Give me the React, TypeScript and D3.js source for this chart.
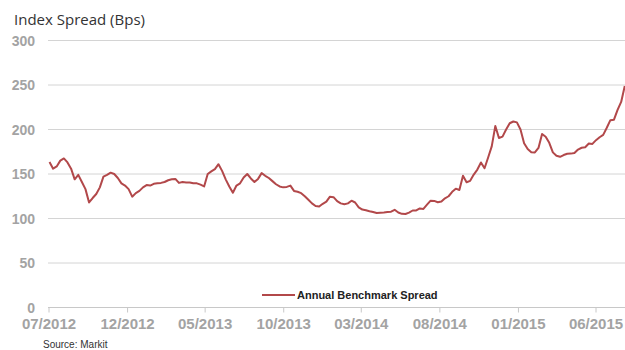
import React from "react";
import * as d3 from "d3";

const title = "Index Spread (Bps)";
const seriesName = "Annual Benchmark Spread";
const sourceText = "Source: Markit";
const yTicks = [0, 50, 100, 150, 200, 250, 300];
const xTickDates = ["2012-07-01", "2012-12-01", "2013-05-01", "2013-10-01", "2014-03-01", "2014-08-01", "2015-01-01", "2015-06-01"];
const startWeek = "2012-07-02";
// weekly index spread values (bps)
const spreadValues = [
  163.5, 156, 158.5, 165, 167.5, 163, 156, 144, 149, 141,
  133, 118, 123, 127.5, 135, 147, 149, 151.5, 150, 145.5,
  139.5, 137, 133, 124.5, 128.5, 131, 135, 137.6, 137, 139,
  139.5, 140, 141, 143, 144, 144.5, 140, 141, 140.5, 140.5,
  139.5, 139.5, 138, 136, 150, 153, 155.5, 161, 153.5, 144,
  136, 129, 137, 139.5, 146, 150, 145, 141, 144.5, 151,
  148, 145.5, 142, 138.5, 136, 135, 135.5, 137, 131, 130,
  128.5, 125, 121, 117, 114, 113.5, 116.5, 119, 124.5, 124,
  119.5, 117, 116, 117, 120, 118, 112.5, 110, 109.3, 108.2,
  107.2, 106.2, 106.5, 106.8, 107.3, 107.6, 109.8, 106.8, 105.2, 105,
  106.6, 109, 109, 111.3, 110.8, 115.5, 120, 119.8, 118.3, 119,
  122.7, 125, 130, 133.5, 132, 148, 140.8, 142.3, 149.3, 155,
  163, 156.5, 168.5, 181, 204, 190.5, 192, 200, 207, 209,
  208, 200, 184.5, 178, 174.5, 174.2, 179.3, 195, 191.8, 185,
  174.3, 170.5, 169.3, 171.3, 172.8, 172.9, 173.5, 177.5, 179.5, 180,
  184.2, 183.8, 188, 191.3, 194, 202, 210.5, 211, 222, 231,
  249,
];

const W = 625;
const H = 350;

export default function App() {
  const parse = d3.timeParse("%Y-%m-%d");
  const start = parse(startWeek) as Date;
  const data = spreadValues.map((v, i) => ({ date: d3.timeWeek.offset(start, i), value: v }));
  const tickDates = xTickDates.map((s) => parse(s) as Date);

  const x = d3.scaleTime().domain([tickDates[0], tickDates[tickDates.length - 1]]).range([49, 596]);
  const y = d3.scaleLinear().domain([0, 300]).range([307.5, 40.5]);
  const line = d3
    .line<{ date: Date; value: number }>()
    .x((d) => x(d.date))
    .y((d) => y(d.value))
    .curve(d3.curveLinear);
  const fmt = d3.timeFormat("%m/%Y");
  const gridLeft = 48;
  const gridRight = 625;

  return (
    <svg width={W} height={H} style={{ position: "absolute", left: 0, top: 0, background: "#fff" }}>
      <text x={14} y={25} fontFamily="'Open Sans', sans-serif" fontSize={15} fill="#333">
        {title}
      </text>
      {yTicks.map((t) => (
        <g key={t}>
          {t > 0 && <line x1={gridLeft} x2={gridRight} y1={y(t)} y2={y(t)} stroke="#d4d4d4" strokeWidth={1} />}
          <text
            x={35}
            y={y(t)}
            dy="0.36em"
            textAnchor="end"
            fontFamily="'Liberation Sans', Arial, sans-serif"
            fontWeight="bold"
            fontSize={14}
            fill="#a3a3a3"
          >
            {t}
          </text>
        </g>
      ))}
      <line x1={gridLeft} x2={gridRight} y1={y(0)} y2={y(0)} stroke="#c8c8c8" strokeWidth={1} />
      {tickDates.map((d, i) => (
        <g key={i}>
          <line x1={x(d)} x2={x(d)} y1={y(0)} y2={y(0) + 5} stroke="#c8c8c8" strokeWidth={1} />
          <text
            x={x(d)}
            y={329}
            textAnchor="middle"
            fontFamily="'Liberation Sans', Arial, sans-serif"
            fontWeight="bold"
            fontSize={15}
            fill="#a3a3a3"
          >
            {fmt(d)}
          </text>
        </g>
      ))}
      <path d={line(data) || ""} fill="none" stroke="#b2484a" strokeWidth={2} strokeLinejoin="round" />
      <line x1={262} x2={295} y1={295} y2={295} stroke="#b2484a" strokeWidth={2} />
      <text x={297} y={298.5} fontFamily="'Liberation Sans', Arial, sans-serif" fontWeight="bold" fontSize={11} fill="#222">
        {seriesName}
      </text>
      <text x={43} y={348} fontFamily="'Liberation Sans', Arial, sans-serif" fontSize={10} fill="#333">
        {sourceText}
      </text>
    </svg>
  );
}
